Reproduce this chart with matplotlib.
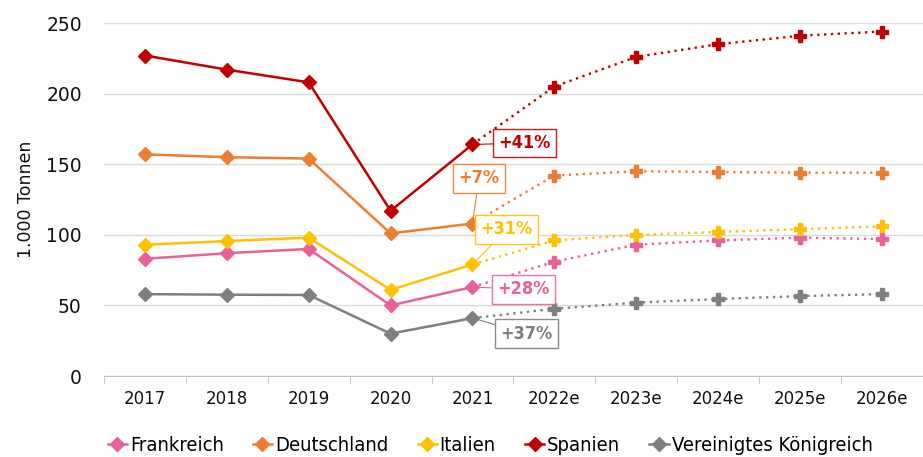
import matplotlib
matplotlib.use("Agg")
from matplotlib import pyplot as plt
from matplotlib.lines import Line2D

years = ["2017", "2018", "2019", "2020", "2021", "2022e", "2023e", "2024e", "2025e", "2026e"]
n_hist = 5  # 2017-2021 are actual values, rest are forecasts

countries = ["Frankreich", "Deutschland", "Italien", "Spanien", "Vereinigtes Königreich"]
frankreich = [83, 87, 90, 50, 63, 81, 93, 96, 98, 97]
deutschland = [157, 155, 154, 101, 108, 142, 145, 144.5, 144, 144]
italien = [93, 95.6, 98, 61, 79, 96, 100, 102, 104, 106]
spanien = [227, 217, 208, 117, 164, 205, 226, 235, 241, 244]
uk = [58, 57.6, 57.4, 30, 41, 47.6, 52, 54.5, 56.6, 58]
growth_labels = ["+28%", "+7%", "+31%", "+41%", "+37%"]

colors = ["#E9609B", "#ED7D31", "#FFC000", "#C00000", "#7F7F7F"]
series = [frankreich, deutschland, italien, spanien, uk]

fig = plt.figure(figsize=(9.23, 4.57), dpi=100)
ax = fig.add_axes([0.1127, 0.1772, 0.887, 0.7724])

x = list(range(len(years)))
for vals, clr in zip(series, colors):
    ax.plot(x[:n_hist], vals[:n_hist], color=clr, lw=1.8, marker="D", ms=7.2, zorder=3)
    ax.plot(x[n_hist - 1:], vals[n_hist - 1:], color=clr, lw=1.7, ls=(0, (1, 1.9)), zorder=2)
    ax.plot(x[n_hist:], vals[n_hist:], color=clr, lw=0, marker="P", ms=8.5, zorder=3)

# growth labels next to 2021 points (box centre offsets in data units)
offsets = [(0.62, -1.5), (0.08, 32), (0.42, 25), (0.64, 1), (0.66, -11)]
for vals, clr, lab, (dx, dy) in zip(series, colors, growth_labels, offsets):
    ax.annotate(lab, xy=(4, vals[4]), xytext=(4 + dx, vals[4] + dy),
                ha="center", va="center", color=clr, fontsize=13, fontweight="bold",
                fontstretch="condensed", zorder=5,
                bbox=dict(boxstyle="square,pad=0.3", fc="white", ec=clr, lw=1.0, alpha=0.9),
                arrowprops=dict(arrowstyle="-", color=clr, lw=0.8, shrinkA=0, shrinkB=0))

ax.set_xlim(-0.5, len(years) - 0.5)
ax.set_ylim(0, 250)
ax.set_yticks([0, 50, 100, 150, 200, 250])
ax.set_xticks(x)
ax.set_xticklabels(years)
ax.set_xticks([i - 0.5 for i in range(len(years) + 1)], minor=True)
ax.tick_params(axis="x", which="major", length=0, pad=10, labelsize=12, labelcolor="#111111")
ax.tick_params(axis="x", which="minor", length=6, color="#BFBFBF")
ax.tick_params(axis="y", length=0, pad=16, labelsize=13.5, labelcolor="#111111")
ax.grid(axis="y", color="#D9D9D9", lw=1)
ax.set_axisbelow(True)
for side in ["top", "right", "left"]:
    ax.spines[side].set_visible(False)
ax.spines["bottom"].set_color("#BFBFBF")
ax.set_ylabel("1.000 Tonnen", fontsize=12.5, labelpad=8, color="#111111")

handles = [Line2D([0], [0], color=c, lw=1.8, marker="D", ms=7.2) for c in colors]
fig.legend(handles, countries, loc="lower center", bbox_to_anchor=(0.531, -0.035), ncol=5,
           frameon=False, handlelength=0.95, handletextpad=0.15, columnspacing=1.45,
           prop={"size": 14.5, "stretch": "condensed"})

fig.savefig("out.png", dpi=100)
